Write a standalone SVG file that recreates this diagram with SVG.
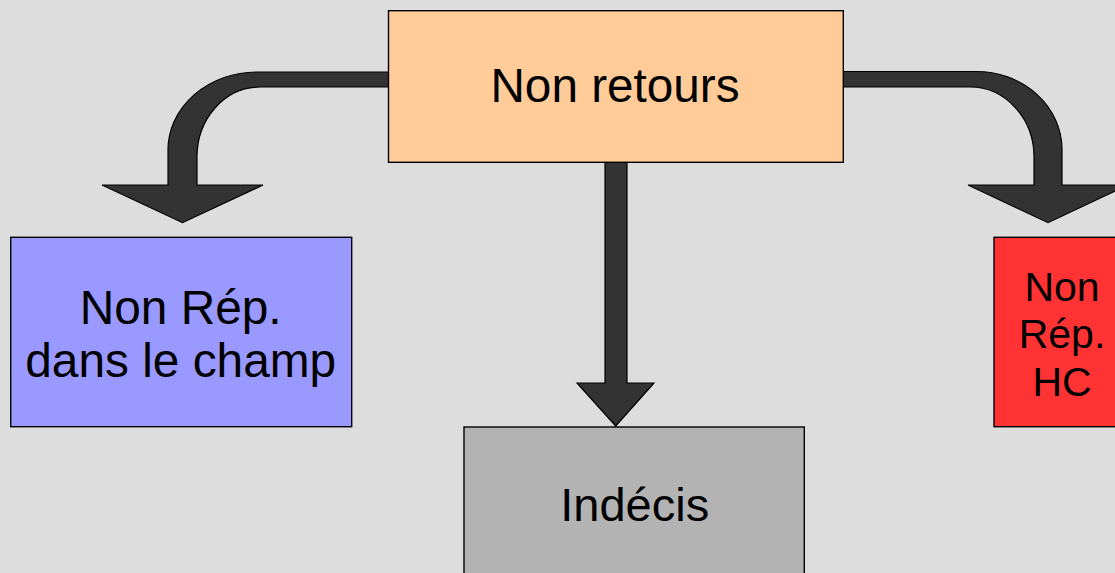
<svg xmlns="http://www.w3.org/2000/svg" width="1115" height="573" viewBox="0 0 1115 573">
<style>
.arrow{fill:#333333;stroke:#000000;stroke-width:1.2;stroke-linejoin:miter}
.box{stroke:#000000;stroke-width:1.4}
.t{font-family:"Liberation Sans",Arial,sans-serif;fill:#000000;text-anchor:middle}
</style>
<rect x="0" y="0" width="1115" height="573" fill="#dddddd"/>
<g id="connectors">
<path class="arrow" d="M 389,72 L 257,72 A 89,78 0 0 0 168,150 L 168,185 L 102,185 L 182.5,222.7 L 263,185 L 197,185 L 197,157 A 63,70 0 0 1 260,87 L 389,87 Z"/>
<path class="arrow" d="M 843,71.5 L 976,71.5 A 86,78 0 0 1 1062,149 L 1062,185 L 1128,185 L 1048,222.7 L 968,185 L 1034,185 L 1034,157 A 64,70 0 0 0 970,87 L 843,87 Z"/>
<path class="arrow" d="M 605,162 L 605,383 L 577,383 L 615.7,426 L 654,383 L 627,383 L 627,162 Z"/>
</g>
<g id="node-nonretours">
<rect class="box" x="388.5" y="10.7" width="454.8" height="151.6" fill="#ffcc99"/>
<text class="t" x="615" y="101.7" font-size="47.7">Non retours</text>
</g>
<g id="node-champ">
<rect class="box" x="10.7" y="237.3" width="341" height="189.4" fill="#9999ff"/>
<text class="t" font-size="47.8"><tspan x="180.7" y="324.3">Non Rép.</tspan><tspan x="180.7" y="376.7">dans le champ</tspan></text>
</g>
<g id="node-indecis">
<rect class="box" x="464" y="427" width="340.3" height="160" fill="#b3b3b3"/>
<text class="t" x="634.7" y="521" font-size="47">Indécis</text>
</g>
<g id="node-hc">
<rect class="box" x="994" y="237.3" width="136" height="189.4" fill="#ff3333"/>
<text class="t" font-size="41"><tspan x="1062" y="301">Non</tspan><tspan x="1062" y="348.3">Rép.</tspan><tspan x="1062" y="395.7">HC</tspan></text>
</g>
</svg>
